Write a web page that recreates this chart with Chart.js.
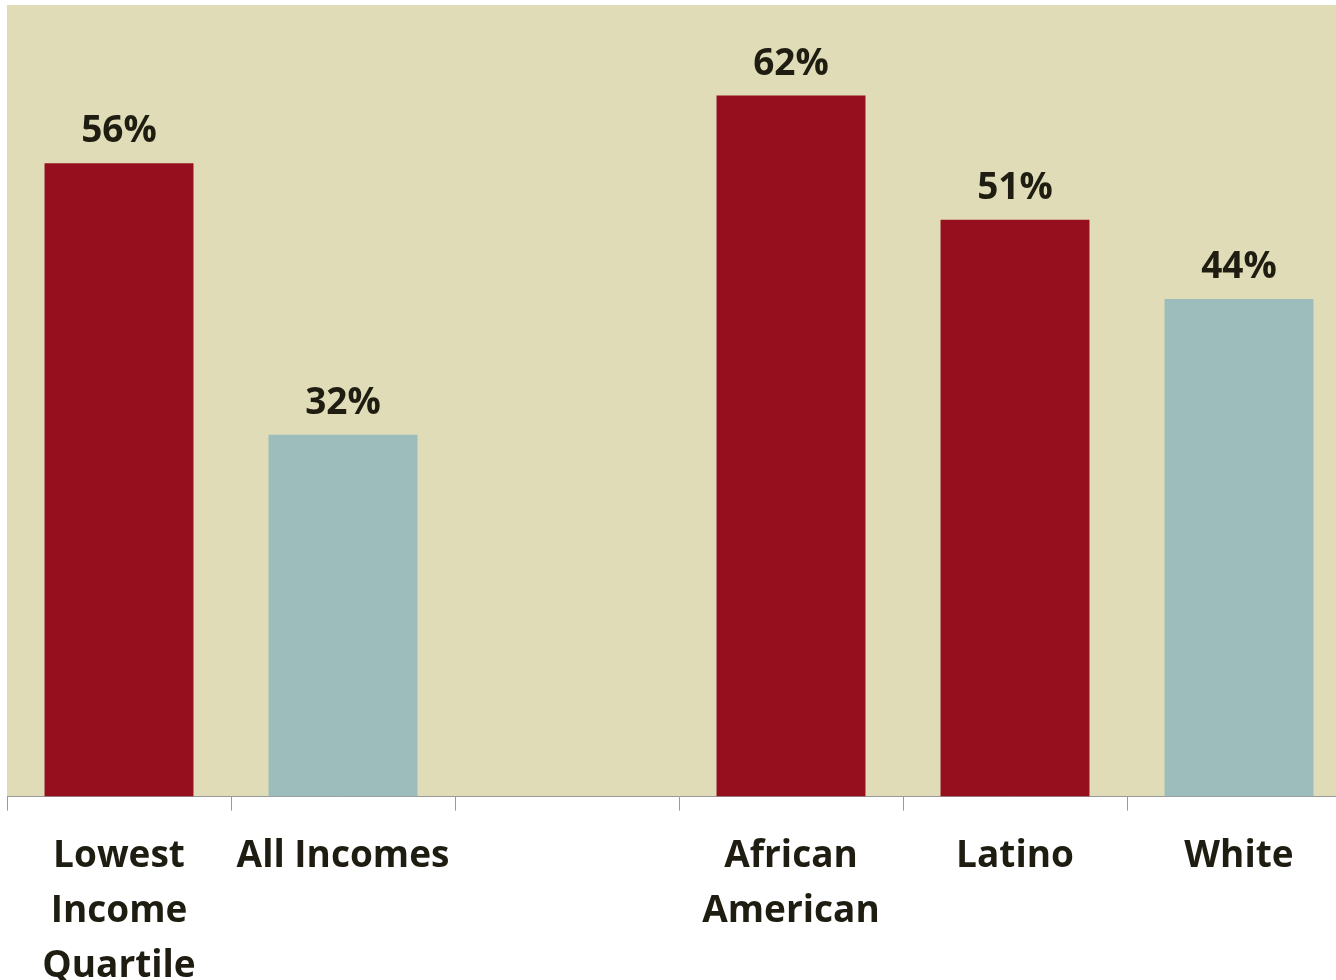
<!DOCTYPE html>
<html>
<head>
<meta charset="utf-8">
<script src="https://cdn.jsdelivr.net/npm/chart.js@4"></script>
<style>
  html, body { margin: 0; padding: 0; overflow: hidden; background: #fff; }
  #wrap { width: 1352px; height: 1012px; position: relative; }
</style>
</head>
<body>
<div id="wrap"><canvas id="gaps"></canvas></div>
<script>
// categories, with an empty slot separating income groups from race groups
const categories = [['Lowest', 'Income', 'Quartile'], 'All Incomes', '', ['African', 'American'], 'Latino', 'White']
const shares = [56, 32, null, 62, 51, 44]
const barColors = ['#960f1f', '#9dbdbc', '#960f1f', '#960f1f', '#960f1f', '#9dbdbc']

const inkColor = '#1f1d12'
const labelFont = { family: '"Open Sans", sans-serif', size: 37, weight: 'bold' }

// beige fill behind the plot area
const plotBackground = {
    id: 'plotBackground',
    beforeDraw(chart) {
        const { ctx, chartArea } = chart
        ctx.save()
        ctx.fillStyle = '#e0dcb8'
        ctx.fillRect(chartArea.left, chartArea.top, chartArea.right - chartArea.left, chartArea.bottom - chartArea.top)
        ctx.restore()
    }
}

// percent labels above each bar
const valueLabels = {
    id: 'valueLabels',
    afterDatasetsDraw(chart) {
        const ctx = chart.ctx
        const meta = chart.getDatasetMeta(0)
        ctx.save()
        ctx.fillStyle = inkColor
        ctx.font = 'bold 37px "Open Sans", sans-serif'
        ctx.textAlign = 'center'
        ctx.textBaseline = 'bottom'
        meta.data.forEach((bar, i) => {
            if (shares[i] == null) return
            ctx.fillText(shares[i] + '%', bar.x, bar.y - 13)
        })
        ctx.restore()
    }
}

new Chart(document.getElementById('gaps'), {
    type: 'bar',
    data: {
        labels: categories,
        datasets: [{
            data: shares,
            backgroundColor: barColors,
            borderWidth: 0,
            barPercentage: 0.665,
            categoryPercentage: 1
        }]
    },
    options: {
        responsive: true,
        maintainAspectRatio: false,
        animation: false,
        layout: { padding: { left: 7, right: 1, top: 5, bottom: 0 } },
        plugins: { legend: { display: false }, tooltip: { enabled: false } },
        scales: {
            y: { display: false, min: 0, max: 70 },
            x: {
                grid: { drawOnChartArea: false, drawTicks: true, tickLength: 14, color: '#9a9a9a', lineWidth: 1 },
                border: { color: '#9a9a9a', width: 1 },
                ticks: {
                    color: inkColor,
                    font: { ...labelFont, lineHeight: 1.49 },
                    padding: 18,
                    maxRotation: 0,
                    autoSkip: false
                }
            }
        }
    },
    plugins: [plotBackground, valueLabels]
})
</script>
</body>
</html>
